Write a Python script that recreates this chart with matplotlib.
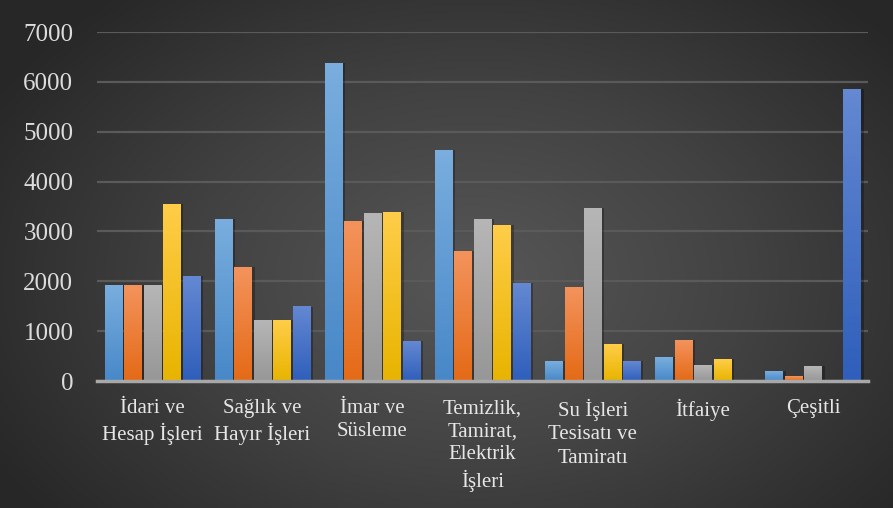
import numpy as np
import matplotlib.pyplot as plt
from matplotlib.colors import LinearSegmentedColormap

# values
categories = ["İdari ve\nHesap İşleri", "Sağlık ve\nHayır İşleri", "İmar ve\nSüsleme",
              "Temizlik,\nTamirat,\nElektrik\nİşleri", "Su İşleri\nTesisatı ve\nTamiratı",
              "İtfaiye", "Çeşitli"]
series_1 = [1925, 3245, 6370, 4630, 400, 480, 200]
series_2 = [1925, 2285, 3205, 2605, 1885, 820, 100]
series_3 = [1925, 1220, 3365, 3245, 3465, 320, 300]
series_4 = [3545, 1220, 3385, 3125, 740, 440, 0]
series_5 = [2105, 1485, 800, 1965, 400, 0, 5850]
yticks = [0, 1000, 2000, 3000, 4000, 5000, 6000, 7000]

# (top colour, bottom colour) for each series
bar_colors = [("#79aede", "#4888c8"), ("#f3935c", "#e46a16"), ("#b6b6b6", "#979797"),
              ("#ffcd48", "#e8b400"), ("#6488d2", "#2f5fbb")]

fig = plt.figure(figsize=(8.93, 5.08), dpi=100)

# radial background
bg = fig.add_axes([0, 0, 1, 1], zorder=-10)
yy, xx = np.mgrid[0:1:254j, 0:1:447j]
r = np.sqrt(((xx - 0.53) / 0.62) ** 2 + ((yy - 0.55) / 0.75) ** 2)
r = np.clip(r, 0, 1)
cmap_bg = LinearSegmentedColormap.from_list("bg", ["#575757", "#424242", "#272727"])
bg.imshow(r, cmap=cmap_bg, aspect="auto", extent=[0, 1, 0, 1], vmin=0, vmax=1)
bg.axis("off")

ax = fig.add_axes([0.1086, 0.25, 0.8634, 0.687])
ax.set_facecolor("none")

all_series = [series_1, series_2, series_3, series_4, series_5]
x = np.arange(len(categories))
pitch = 0.177
width = 0.155

for i, vals in enumerate(all_series):
    pos = x + (i - 2) * pitch
    # soft shadow to the right of the bars
    ax.bar(pos + 0.03, vals, width=width, color="black", alpha=0.28, zorder=2, linewidth=0)
    bars = ax.bar(pos, vals, width=width, color="none", zorder=3, linewidth=0)
    cm = LinearSegmentedColormap.from_list("c%d" % i, [bar_colors[i][1], bar_colors[i][0]])
    grad = np.linspace(0, 1, 64).reshape(-1, 1)
    for b in bars:
        h = b.get_height()
        if h <= 0:
            continue
        x0 = b.get_x()
        ax.imshow(grad, cmap=cm, aspect="auto", origin="lower",
                  extent=[x0, x0 + b.get_width(), 0, h], zorder=3)

ax.set_xlim(-0.5, len(categories) - 0.5)
ax.set_ylim(0, 7000)
ax.set_yticks(yticks)
ax.set_yticklabels([str(t) for t in yticks])
ax.set_xticks(x)
ax.set_xticklabels(categories)

ax.grid(axis="y", color="#5a5a5a", linewidth=1.6, zorder=0)
ax.set_axisbelow(True)
for s in ["top", "right", "left"]:
    ax.spines[s].set_visible(False)
ax.spines["bottom"].set_color("#a8a8a8")
ax.spines["bottom"].set_linewidth(2.5)
ax.spines["bottom"].set_zorder(5)

ax.tick_params(axis="y", length=0, pad=17, labelcolor="#dcdcdc", labelsize=18)
ax.tick_params(axis="x", length=0, pad=13, labelcolor="#e6e6e6", labelsize=15)
for lab in ax.get_yticklabels() + ax.get_xticklabels():
    lab.set_fontfamily("Liberation Serif")
for lab in ax.get_xticklabels():
    lab.set_linespacing(1.3)

fig.savefig("out.png", dpi=100)
